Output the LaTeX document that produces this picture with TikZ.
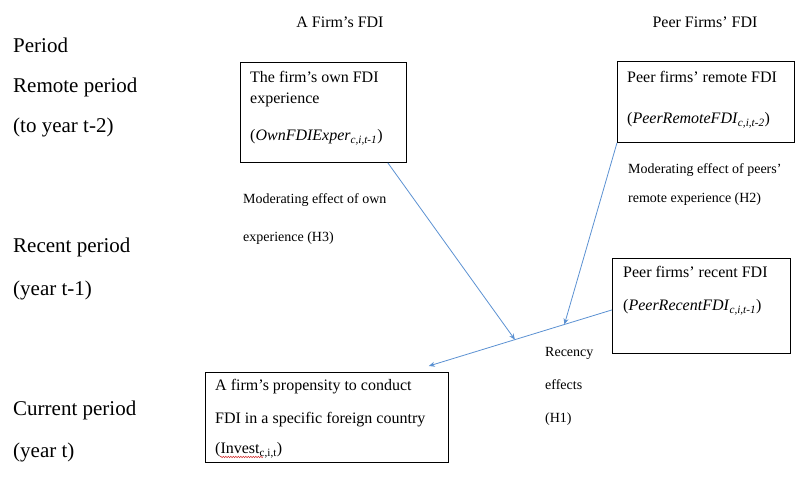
\documentclass[tikz,border=0pt]{standalone}
\usepackage{fontspec}
\setmainfont{Liberation Serif}
\usepackage{tikz}
\usetikzlibrary{arrows.meta, positioning, calc, decorations.pathmorphing}
\definecolor{linkblue}{RGB}{91, 145, 210}
\definecolor{spellred}{RGB}{210, 40, 40}

\begin{document}
\begin{tikzpicture}[x=1pt, y=-1pt,
    every node/.style={inner sep=0pt, font=\fontsize{16}{21}\selectfont},
    box/.style={draw, line width=0.8pt, anchor=north west},
    boxtext/.style={anchor=north west, align=left},
    period/.style={anchor=west, font=\fontsize{21}{25}\selectfont},
    effect/.style={anchor=north west, align=left, font=\fontsize{14}{17}\selectfont},
    link/.style={linkblue, line width=0.8pt, -{Stealth[length=6pt, width=5pt]}}]
    \useasboundingbox (0,0) rectangle (795,490);

    % Column headers
    \node (hfirm) at (340,22) {A Firm's FDI};
    \node (hpeer) at (705,22) {Peer Firms' FDI};

    % Periods
    \foreach \lab/\y [count=\i] in {Period/45, Remote period/87, (to year t-2)/127,
        Recent period/247, (year t-1)/290, Current period/410, (year t)/452}
        {\node[period] (per\i) at (13,\y) {\lab};}

    % Boxes
    \node[box, minimum width=166pt, minimum height=100pt] (own) at (240,62) {};
    \node[boxtext] (owntxt) at (250,71)
        {The firm's own FDI\\experience\\[16pt](\textit{OwnFDIExper}\textsubscript{\textit{c,i,t-1}})};

    \node[box, minimum width=177pt, minimum height=81pt] (remote) at (617,61) {};
    \node[boxtext] (remotetxt) at (627,71)
        {Peer firms' remote FDI\\[20pt](\textit{PeerRemoteFDI}\textsubscript{\textit{c,i,t-2}})};

    \node[box, minimum width=178pt, minimum height=95pt] (recent) at (612,258) {};
    \node[boxtext] (recenttxt) at (623,266)
        {Peer firms' recent FDI\\[12pt](\textit{PeerRecentFDI}\textsubscript{\textit{c,i,t-1}})};

    \node[box, minimum width=243pt, minimum height=90pt] (firm) at (205,372) {};
    \node[boxtext] (firmtxt) at (215,379)
        {A firm's propensity to conduct\\[12pt]FDI in a specific foreign country\\[9pt](Invest\textsubscript{c,i,t})};
    \draw[spellred, line width=0.5pt, decorate, decoration={snake, amplitude=0.7pt, segment length=2.5pt}]
        ($(firmtxt.south west)+(5,-1)$) -- ++(43,0);

    % Effect labels
    \node[effect] (h3) at (243,193) {Moderating effect of own\\[21pt]experience (H3)};
    \node[effect] (h2) at (628,163) {Moderating effect of peers'\\[12pt]remote experience (H2)};
    \node[effect] (h1) at (545,347) {Recency\\[16pt]effects\\[16pt](H1)};

    % Connectors
    \coordinate (recentin) at ($(recent.west)+(0,4)$);
    \coordinate (firmtip) at ($(firm.north east)+(-20,-6)$);
    \coordinate (h3tip) at ($(recentin)!0.53!(firmtip)$);
    \coordinate (h2tip) at ($(recentin)!0.26!(firmtip)$);
    \draw[link] (recentin) -- (firmtip);
    \draw[link] ($(own.south east)+(-19,0)$) -- (h3tip);
    \draw[link] (remote.south west) -- (h2tip);
\end{tikzpicture}
\end{document}
